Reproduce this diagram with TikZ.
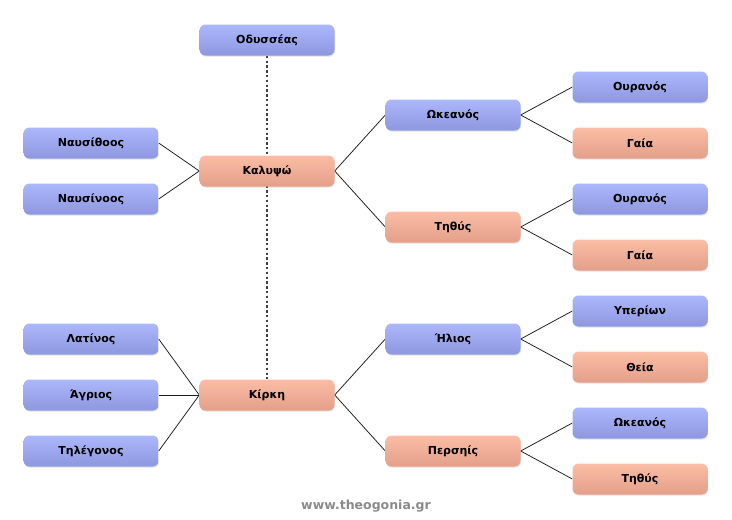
\documentclass[tikz,border=0pt]{standalone}
\usepackage{fontspec}
\setmainfont{DejaVu Sans}
\definecolor{bluetop}{HTML}{ACB6FB}
\definecolor{bluebottom}{HTML}{8D98DF}
\definecolor{salmontop}{HTML}{FBBDA5}
\definecolor{salmonbottom}{HTML}{E39F8A}
\definecolor{linkgrey}{HTML}{1A1A1A}
\definecolor{webgrey}{HTML}{8A8A8A}
\usetikzlibrary{positioning}
\usetikzlibrary{shadows}
\usetikzlibrary{backgrounds}
\tikzstyle{base}=[x=1pt, y=-1pt]
\tikzstyle{person}=[rounded corners=6pt, minimum width=135pt, minimum height=31pt,
    inner sep=0pt, font=\bfseries\fontsize{11}{13}\selectfont,
    drop shadow={opacity=0.22, shadow xshift=0.6pt, shadow yshift=-1.2pt}]
\tikzstyle{male}=[person, top color=bluetop, bottom color=bluebottom]
\tikzstyle{female}=[person, top color=salmontop, bottom color=salmonbottom]
\tikzstyle{link}=[linkgrey, line width=0.75pt]
\tikzstyle{marriage}=[black!75, line width=1.2pt, dash pattern=on 2.4pt off 2.4pt]

\begin{document}
\begin{tikzpicture}[base]
    \path [use as bounding box] (0,0) rectangle (732,520);
    % centre
    \node [male] (odysseas) at (267,40) {Οδυσσέας};
    \node [female] (kalypso) at (267,171) {Καλυψώ};
    \node [female] (kirki) at (267,395) {Κίρκη};
    % children
    \node [male] (nafsithoos) at (91,143) {Ναυσίθοος};
    \node [male] (nafsinoos) at (91,199) {Ναυσίνοος};
    \node [male] (latinos) at (91,339) {Λατίνος};
    \node [male] (agrios) at (91,395) {Άγριος};
    \node [male] (tilegonos) at (91,451) {Τηλέγονος};
    % parents
    \node [male] (okeanos) at (453,115) {Ωκεανός};
    \node [female] (tithys) at (453,227) {Τηθύς};
    \node [male] (ilios) at (453,339) {Ήλιος};
    \node [female] (persiis) at (453,451) {Περσηίς};
    % grandparents
    \node [male] (ouranos1) at (640,87) {Ουρανός};
    \node [female] (gaia1) at (640,143) {Γαία};
    \node [male] (ouranos2) at (640,199) {Ουρανός};
    \node [female] (gaia2) at (640,255) {Γαία};
    \node [male] (yperion) at (640,311) {Υπερίων};
    \node [female] (theia) at (640,367) {Θεία};
    \node [male] (okeanos2) at (640,423) {Ωκεανός};
    \node [female] (tithys2) at (640,479) {Τηθύς};
    \node [webgrey, font=\bfseries\fontsize{12.5}{14}\selectfont] (web) at (366,506) {www.theogonia.gr};
    \begin{pgfonlayer}{background}
        \draw [marriage] (odysseas.south) -- (kirki.north);
        \draw [link] (nafsithoos.east) -- (kalypso.west) -- (nafsinoos.east);
        \draw [link] (latinos.east) -- (kirki.west) -- (tilegonos.east);
        \draw [link] (agrios.east) -- (kirki.west);
        \draw [link] (okeanos.west) -- (kalypso.east) -- (tithys.west);
        \draw [link] (ilios.west) -- (kirki.east) -- (persiis.west);
        \draw [link] (ouranos1.west) -- (okeanos.east) -- (gaia1.west);
        \draw [link] (ouranos2.west) -- (tithys.east) -- (gaia2.west);
        \draw [link] (yperion.west) -- (ilios.east) -- (theia.west);
        \draw [link] (okeanos2.west) -- (persiis.east) -- (tithys2.west);
    \end{pgfonlayer}
\end{tikzpicture}
\end{document}
